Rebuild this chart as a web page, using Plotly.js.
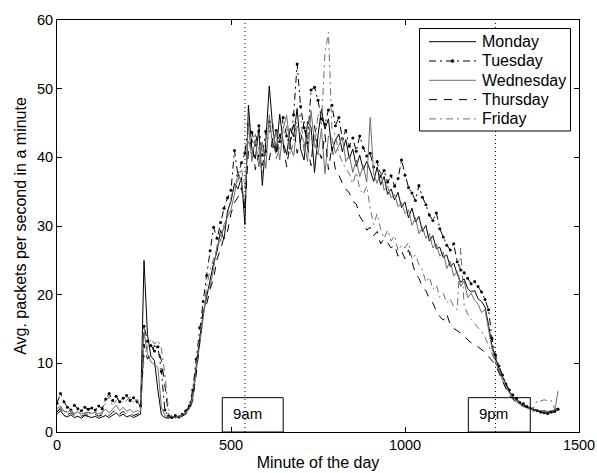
<!DOCTYPE html>
<html>
<head>
<meta charset="utf-8">
<script src="https://cdn.plot.ly/plotly-3.0.1.min.js"></script>
<style>
  html, body { margin: 0; padding: 0; background: #fff; }
  #chart { width: 597px; height: 473px; }
</style>
</head>
<body>
<div id="chart"></div>
<script>
// Average packet rate per minute of the day, sampled every 10 minutes (0..1440)
const minuteStep = 10;
const minutes = Array.from({length: 145}, (_, i) => i * minuteStep);

const monday = [
  2.6, 3.1, 2.4, 2.2, 2.5, 2.1, 2.3, 2.0, 2.4, 2.2,
  2.1, 2.3, 2.0, 2.2, 2.4, 2.1, 2.5, 2.8, 2.3, 2.6,
  2.2, 2.4, 2.1, 2.3, 2.6, 25.0, 14.2, 11.0, 10.4, 6.1,
  2.5, 2.1, 2.0, 2.2, 2.1, 2.3, 2.4, 2.8, 3.6, 5.4,
  9.8, 13.6, 17.2, 19.8, 22.4, 24.6, 26.3, 29.4, 28.1, 32.2,
  33.6, 36.2, 35.4, 37.1, 30.2, 47.6, 41.2, 39.8, 44.1, 35.9,
  42.3, 50.4, 44.2, 40.8, 46.3, 42.1, 40.4, 44.2, 43.0, 47.1,
  41.2, 39.6, 45.2, 44.4, 37.8, 43.2, 47.0, 44.1, 45.6, 40.9,
  42.5, 43.4, 40.8, 42.6, 39.8, 41.2, 38.7, 40.3, 38.2, 39.4,
  38.1, 36.5, 38.6, 36.0, 37.2, 34.6, 35.4, 33.8, 34.9, 32.7,
  33.5, 31.2, 32.6, 30.6, 31.4, 29.2, 30.1, 27.8, 28.6, 26.7,
  26.9, 25.4, 25.8, 24.1, 24.6, 23.0, 21.8, 22.3, 20.9, 20.4,
  20.6, 19.4, 19.0, 18.2, 15.6, 12.6, 10.8, 9.2, 8.1, 6.9,
  5.9, 5.1, 4.6, 4.2, 3.9, 3.6, 3.4, 3.3, 3.2, 3.0,
  3.1, 2.9, 3.0, 3.2, 3.5
];

const tuesday = [
  4.2, 5.6, 4.4, 3.6, 3.2, 3.9, 3.4, 3.1, 3.6, 3.3,
  3.5, 3.2, 3.8, 3.4, 4.8, 5.6, 4.6, 5.2, 4.4, 4.9,
  5.3, 4.6, 5.0, 4.4, 3.8, 15.4, 13.2, 12.6, 11.8, 12.4,
  8.8, 3.2, 2.3, 2.1, 2.4, 2.2, 2.6, 3.1, 3.8, 6.1,
  10.6, 15.2, 19.0, 22.8, 26.4, 29.8, 28.2, 30.5, 32.6, 34.1,
  35.2, 41.0, 37.4, 39.2, 40.6, 44.8, 43.6, 41.8, 44.6, 40.3,
  43.8, 45.2, 41.6, 43.9, 42.3, 45.8, 43.1, 41.4, 46.2, 53.6,
  47.4, 44.3, 42.1, 49.8, 50.2, 48.3, 45.6, 44.8, 46.9, 47.6,
  44.6, 45.8, 42.7, 43.9, 41.6, 42.8, 40.9, 43.1, 41.4, 40.2,
  40.6, 38.6, 39.4, 37.2, 38.1, 36.4, 37.3, 35.8, 36.9, 39.6,
  37.4, 35.6, 34.8, 33.7, 35.9, 34.2, 33.1, 31.6, 30.8, 31.9,
  29.6, 28.4, 27.2, 26.5, 27.4, 24.8, 23.6, 23.2, 22.4, 21.6,
  21.9, 21.2, 20.4, 19.3, 17.8, 13.6, 11.2, 9.6, 8.3, 7.0,
  6.1, 5.4, 4.9, 4.3, 4.1, 3.7, 3.5, 3.2, 3.1, 2.9,
  2.8, 2.7, 2.9, 3.0, 3.3
];

const wednesday = [
  3.4, 3.8, 3.0, 2.9, 3.2, 2.7, 3.0, 2.6, 2.8, 2.9,
  2.7, 2.9, 2.6, 3.0, 3.3, 2.8, 3.4, 3.9, 3.1, 3.6,
  3.0, 3.3, 2.8, 3.1, 3.0, 14.6, 11.4, 10.2, 9.8, 9.4,
  3.6, 2.4, 2.2, 2.3, 2.0, 2.2, 2.5, 2.9, 3.3, 5.0,
  8.9, 12.4, 16.4, 20.4, 21.2, 23.8, 27.2, 27.8, 30.2, 31.4,
  32.4, 34.6, 37.8, 36.2, 33.0, 45.2, 39.4, 42.6, 38.6, 42.2,
  38.4, 46.2, 41.4, 43.8, 39.6, 44.2, 46.1, 41.6, 40.2, 44.6,
  43.4, 42.2, 39.4, 46.8, 42.1, 40.4, 44.2, 37.6, 43.1, 42.8,
  40.6, 41.8, 42.9, 39.4, 40.3, 37.8, 39.6, 37.2, 38.8, 36.4,
  45.8, 37.6, 36.2, 37.9, 35.2, 35.8, 34.1, 34.6, 32.8, 33.4,
  31.8, 32.4, 30.1, 31.2, 28.9, 29.8, 28.2, 28.9, 26.8, 27.4,
  25.6, 26.2, 23.8, 24.9, 22.7, 23.4, 21.2, 22.0, 19.6, 20.2,
  19.2, 18.6, 17.4, 17.8, 14.8, 12.1, 10.2, 8.8, 7.6, 6.5,
  5.6, 4.9, 4.4, 4.0, 3.7, 3.5, 3.3, 3.1, 3.0, 3.1,
  2.9, 3.0, 3.1, 3.0, 6.0
];

const thursday = [
  2.9, 3.4, 2.7, 2.5, 2.8, 2.4, 2.6, 2.3, 2.5, 2.4,
  2.4, 2.6, 2.3, 2.5, 2.7, 2.4, 2.9, 3.2, 2.6, 3.0,
  2.5, 2.7, 2.4, 2.6, 2.8, 12.8, 10.6, 11.4, 12.6, 12.2,
  10.4, 6.8, 2.6, 2.1, 2.2, 2.0, 2.3, 2.6, 3.1, 4.6,
  8.4, 12.8, 17.8, 18.6, 20.8, 22.4, 25.2, 26.6, 28.4, 29.2,
  31.8, 33.4, 34.2, 35.6, 32.4, 40.8, 42.6, 38.2, 40.4, 38.8,
  41.2, 39.6, 42.8, 40.2, 43.4, 41.8, 38.6, 42.2, 44.8, 40.6,
  42.4, 45.2, 41.4, 38.8, 44.6, 41.2, 39.8, 43.4, 38.2, 41.6,
  38.2, 37.4, 36.2, 35.4, 34.8, 33.6, 33.2, 31.4, 30.6, 29.4,
  29.8, 28.6, 29.2, 27.4, 28.1, 27.6, 26.8, 27.2, 25.6, 26.4,
  25.2, 26.5, 24.6, 23.1, 22.4, 21.2, 20.6, 19.4, 18.8, 17.6,
  16.8, 16.3, 17.2, 15.6, 15.1, 14.8, 14.4, 13.9, 13.4, 13.0,
  12.8, 12.4, 11.9, 11.6, 11.0, 10.4, 9.8, 8.6, 7.4, 6.3,
  5.3, 4.8, 4.3, 4.0, 3.8, 3.6, 3.4, 3.2, 3.0, 2.9,
  2.8, 2.9, 2.8, 3.0, 3.2
];

const friday = [
  3.0, 3.6, 3.2, 2.8, 3.0, 2.6, 2.9, 2.5, 2.7, 2.8,
  2.6, 2.8, 2.5, 2.7, 4.4, 5.2, 3.8, 4.6, 4.9, 4.2,
  4.6, 5.1, 4.3, 4.8, 3.4, 10.8, 12.4, 13.6, 12.8, 13.4,
  12.2, 8.4, 3.4, 2.3, 2.1, 2.3, 2.4, 2.7, 3.4, 4.8,
  9.2, 14.2, 16.8, 21.2, 23.6, 25.2, 26.8, 28.8, 29.6, 31.6,
  34.2, 35.8, 36.6, 38.4, 35.6, 42.6, 40.2, 43.4, 41.2, 37.6,
  40.8, 43.6, 45.4, 39.8, 41.6, 43.2, 44.6, 40.4, 42.2, 45.8,
  46.2, 40.6, 44.4, 43.6, 41.2, 46.4, 44.8, 55.2, 58.2, 44.2,
  43.2, 40.6, 39.2, 38.4, 37.6, 36.2, 37.8, 35.4, 34.6, 35.8,
  32.6, 30.2, 31.8, 29.6, 28.2, 29.4, 27.8, 28.6, 26.4, 27.2,
  26.8, 27.6, 25.2, 25.8, 24.4, 23.6, 21.8, 22.6, 20.8, 21.4,
  19.6, 20.2, 18.8, 19.4, 18.2, 17.8, 26.8, 18.4, 17.2, 16.4,
  15.8, 15.2, 14.6, 13.8, 12.6, 11.2, 10.2, 9.0, 7.8, 6.6,
  5.8, 5.0, 4.6, 4.2, 3.9, 3.7, 3.6, 3.5, 4.6, 4.5,
  4.7, 4.5, 4.6, 3.4, 3.1
];

const dayNames = ['Monday', 'Tuesday', 'Wednesday', 'Thursday', 'Friday'];

// 9am and 9pm reference marks (minute of day) and their label boxes
const markMinutes = [540, 1260];
const markLabels = ['9am', '9pm'];
const markBoxes = [[475, 650], [1182, 1360]];
const markBoxTop = 5;

const font = 'Liberation Sans, Arial, Helvetica, sans-serif';
const dashDot = '7px,4px,2px,4px';
const styles = [
  {color: '#000000', dash: 'solid', dots: false},
  {color: '#000000', dash: dashDot, dots: true},
  {color: '#6e6e6e', dash: 'solid', dots: false},
  {color: '#000000', dash: '8px,7px', dots: false},
  {color: '#6e6e6e', dash: dashDot, dots: false}
];
const series = [monday, tuesday, wednesday, thursday, friday];

const traces = series.map((vals, i) => {
  const st = styles[i];
  const t = {
    type: 'scatter', name: dayNames[i], x: minutes, y: vals,
    mode: st.dots ? 'lines+markers' : 'lines',
    line: {color: st.color, width: 1, dash: st.dash}
  };
  if (st.dots) t.marker = {symbol: 'circle', size: 3, color: st.color};
  return t;
});

// plot-area geometry (pixels) used to place the boxed legend
const plotL = 57, plotR = 579, plotT = 20, plotB = 432;
const px = p => (p - plotL) / (plotR - plotL);
const py = p => (plotB - p) / (plotB - plotT);

const shapes = [];
const annotations = [];
markMinutes.forEach((m, i) => {
  shapes.push({type: 'line', xref: 'x', yref: 'y', x0: m, x1: m, y0: 0, y1: 60,
               line: {color: '#000', width: 1, dash: '1px,3px'}});
  shapes.push({type: 'rect', xref: 'x', yref: 'y', x0: markBoxes[i][0], x1: markBoxes[i][1],
               y0: 0, y1: markBoxTop, line: {color: '#000', width: 1}, fillcolor: 'rgba(0,0,0,0)'});
  annotations.push({xref: 'x', yref: 'y', x: markBoxes[i][0] + 25, y: markBoxTop / 2 + 0.2,
                    xanchor: 'left', yanchor: 'middle', text: markLabels[i], showarrow: false,
                    font: {family: font, size: 15, color: '#000'}});
});

// boxed legend in the upper right corner
const legBox = {l: 419.5, r: 570.5, t: 28.5, b: 131};
const legRow0 = 41.7, legRowGap = 19.3, legLineL = 429, legLineR = 476, legTextL = 480;
shapes.push({type: 'rect', xref: 'paper', yref: 'paper',
             x0: px(legBox.l), x1: px(legBox.r), y0: py(legBox.b), y1: py(legBox.t),
             line: {color: '#000', width: 1}, fillcolor: '#fff', layer: 'above'});
dayNames.forEach((name, i) => {
  const yc = legRow0 + i * legRowGap;
  const st = styles[i];
  shapes.push({type: 'line', xref: 'paper', yref: 'paper',
               x0: px(legLineL), x1: px(legLineR), y0: py(yc), y1: py(yc),
               line: {color: st.color, width: 1, dash: st.dash}});
  if (st.dots) {
    const xc = (legLineL + legLineR) / 2;
    shapes.push({type: 'circle', xref: 'paper', yref: 'paper',
                 x0: px(xc - 1.5), x1: px(xc + 1.5), y0: py(yc + 1.5), y1: py(yc - 1.5),
                 line: {color: st.color, width: 0.5}, fillcolor: st.color});
  }
  annotations.push({xref: 'paper', yref: 'paper', x: px(legTextL), y: py(yc),
                    xanchor: 'left', yanchor: 'middle', text: name, showarrow: false,
                    font: {family: font, size: 16, color: '#000'}});
});

const axisCommon = {
  showline: true, mirror: 'ticks', linecolor: '#000', linewidth: 1,
  ticks: 'inside', ticklen: 5, tickcolor: '#000', showgrid: false, zeroline: false,
  tickfont: {family: font, size: 14.5, color: '#000'}
};

const layout = {
  width: 597, height: 473,
  margin: {l: plotL, r: 597 - plotR, t: plotT, b: 473 - plotB},
  paper_bgcolor: '#fff', plot_bgcolor: '#fff',
  showlegend: false,
  xaxis: Object.assign({}, axisCommon, {
    range: [0, 1500], tickvals: [0, 500, 1000, 1500],
    title: {text: 'Minute of the day', font: {family: font, size: 16, color: '#000'}, standoff: 4}
  }),
  yaxis: Object.assign({}, axisCommon, {
    range: [0, 60], tickvals: [0, 10, 20, 30, 40, 50, 60],
    title: {text: 'Avg. packets per second in a minute', font: {family: font, size: 16, color: '#000'}, standoff: 6}
  }),
  shapes: shapes,
  annotations: annotations
};

Plotly.newPlot('chart', traces, layout, {displayModeBar: false, staticPlot: true});
</script>
</body>
</html>
